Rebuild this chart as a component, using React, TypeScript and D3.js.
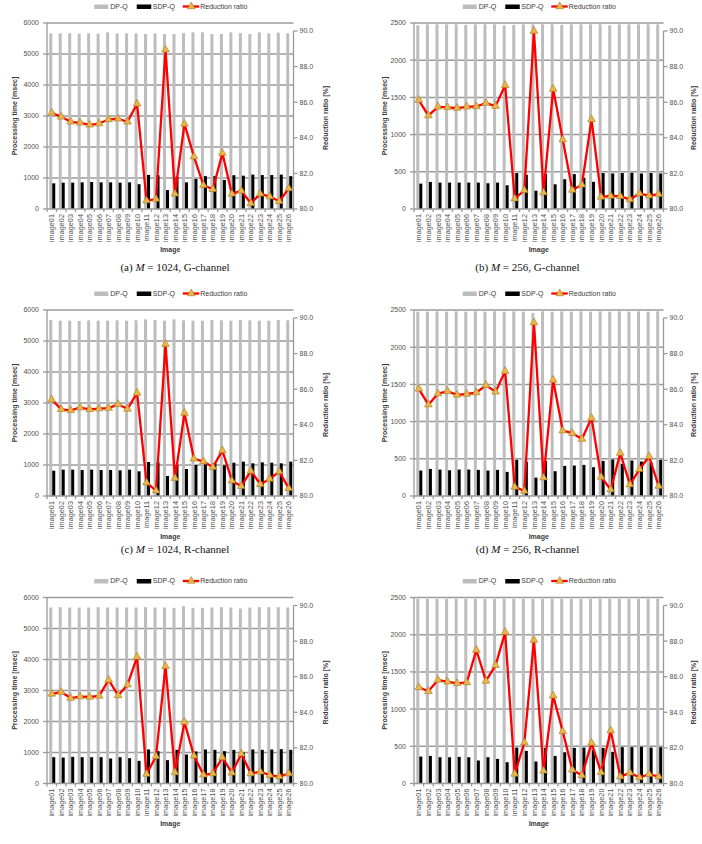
import React, { useEffect, useRef } from "react";
import * as d3 from "d3";

const IMAGES = [
  "image01", "image02", "image03", "image04", "image05", "image06", "image07",
  "image08", "image09", "image10", "image11", "image12", "image13", "image14",
  "image15", "image16", "image17", "image18", "image19", "image20", "image21",
  "image22", "image23", "image24", "image25", "image26",
];

// (a) M = 1024, G-channel
const DPQ_A = [5667, 5667, 5667, 5656, 5667, 5656, 5699, 5667, 5667, 5667, 5645, 5667, 5645, 5645, 5677, 5699, 5699, 5645, 5645, 5699, 5677, 5645, 5699, 5667, 5688, 5667];
const SDPQ_A = [828, 850, 850, 860, 870, 860, 860, 850, 860, 800, 1100, 1090, 610, 1040, 860, 970, 1060, 1060, 935, 1090, 1075, 1110, 1095, 1095, 1110, 1060];
const RATIO_A = [85.40, 85.18, 84.90, 84.84, 84.73, 84.80, 85.03, 85.07, 84.90, 85.91, 80.47, 80.56, 88.95, 80.85, 84.78, 82.94, 81.34, 81.11, 83.14, 80.85, 81.02, 80.32, 80.85, 80.70, 80.43, 81.15];

// (b) M = 256, G-channel
const DPQ_B = [2468, 2482, 2482, 2482, 2482, 2475, 2482, 2482, 2482, 2468, 2475, 2482, 2482, 2482, 2482, 2475, 2482, 2482, 2482, 2482, 2468, 2482, 2482, 2482, 2482, 2482];
const SDPQ_B = [341, 364, 355, 355, 355, 355, 355, 346, 355, 319, 483, 460, 246, 470, 332, 400, 469, 420, 365, 483, 478, 483, 487, 478, 483, 478];
const RATIO_B = [86.12, 85.25, 85.74, 85.71, 85.67, 85.74, 85.76, 85.95, 85.78, 86.95, 80.58, 81.05, 90.00, 80.92, 86.74, 83.90, 81.07, 81.36, 85.03, 80.68, 80.73, 80.72, 80.53, 80.87, 80.75, 80.83];

// (c) M = 1024, R-channel
const DPQ_C = [5677, 5656, 5656, 5645, 5667, 5656, 5656, 5667, 5656, 5667, 5699, 5677, 5656, 5699, 5667, 5656, 5656, 5677, 5667, 5656, 5677, 5667, 5656, 5656, 5677, 5667];
const SDPQ_C = [817, 850, 850, 839, 850, 839, 839, 828, 850, 796, 1097, 1090, 645, 1000, 871, 1000, 1022, 1054, 989, 1075, 1108, 1054, 1086, 1075, 1054, 1108];
const RATIO_C = [85.41, 84.87, 84.81, 84.96, 84.87, 84.91, 84.94, 85.15, 84.89, 85.79, 80.75, 80.30, 88.53, 81.00, 84.66, 82.09, 81.94, 81.62, 82.56, 80.86, 80.55, 81.41, 80.66, 80.96, 81.37, 80.43];

// (d) M = 256, R-channel
const DPQ_D = [2478, 2478, 2482, 2478, 2482, 2478, 2482, 2478, 2482, 2478, 2482, 2478, 2460, 2482, 2478, 2482, 2478, 2482, 2478, 2482, 2478, 2482, 2478, 2482, 2478, 2482];
const SDPQ_D = [342, 364, 355, 346, 355, 355, 351, 342, 351, 324, 486, 460, 247, 470, 333, 405, 409, 418, 387, 472, 490, 432, 477, 463, 450, 486];
const RATIO_D = [86.02, 85.13, 85.75, 85.88, 85.68, 85.73, 85.81, 86.22, 85.85, 87.01, 80.51, 80.28, 89.74, 81.03, 86.52, 83.67, 83.53, 83.20, 84.38, 81.07, 80.36, 82.41, 80.64, 81.50, 82.22, 80.56];

// (e) M = 1024, B-channel
const DPQ_E = [5677, 5688, 5677, 5677, 5677, 5688, 5677, 5677, 5677, 5677, 5688, 5677, 5677, 5667, 5720, 5667, 5667, 5677, 5688, 5677, 5645, 5677, 5688, 5688, 5688, 5677];
const SDPQ_E = [849, 839, 860, 849, 849, 849, 806, 849, 817, 731, 1097, 1043, 753, 1086, 935, 1032, 1097, 1086, 1043, 1086, 1000, 1097, 1086, 1097, 1108, 1086];
const RATIO_E = [85.03, 85.14, 84.80, 84.88, 84.86, 84.92, 85.82, 84.95, 85.55, 87.11, 80.53, 81.52, 86.59, 80.62, 83.45, 81.56, 80.49, 80.56, 81.46, 80.60, 81.67, 80.56, 80.66, 80.47, 80.39, 80.56];

// (f) M = 256, B-channel
const DPQ_F = [2482, 2482, 2482, 2482, 2482, 2482, 2482, 2482, 2482, 2482, 2482, 2482, 2482, 2482, 2482, 2482, 2482, 2482, 2482, 2482, 2482, 2482, 2482, 2482, 2482, 2482];
const SDPQ_F = [362, 371, 353, 353, 358, 353, 309, 353, 331, 286, 483, 438, 295, 479, 371, 420, 479, 483, 450, 479, 425, 488, 488, 492, 483, 488];
const RATIO_F = [85.40, 85.18, 85.81, 85.72, 85.63, 85.68, 87.50, 85.76, 86.64, 88.50, 80.54, 82.30, 88.06, 80.71, 84.93, 82.93, 80.77, 80.45, 82.28, 80.62, 82.97, 80.39, 80.60, 80.34, 80.52, 80.39];

const RATIO_TICKS = [80, 82, 84, 86, 88, 90];

const PANELS = [
  { dp: DPQ_A, sdp: SDPQ_A, ratio: RATIO_A, yMax: 6000, step: 1000, col: 0, row: 0, tag: "(a)", m: "1024", ch: "G-channel" },
  { dp: DPQ_B, sdp: SDPQ_B, ratio: RATIO_B, yMax: 2500, step: 500, col: 1, row: 0, tag: "(b)", m: "256", ch: "G-channel" },
  { dp: DPQ_C, sdp: SDPQ_C, ratio: RATIO_C, yMax: 6000, step: 1000, col: 0, row: 1, tag: "(c)", m: "1024", ch: "R-channel" },
  { dp: DPQ_D, sdp: SDPQ_D, ratio: RATIO_D, yMax: 2500, step: 500, col: 1, row: 1, tag: "(d)", m: "256", ch: "R-channel" },
  { dp: DPQ_E, sdp: SDPQ_E, ratio: RATIO_E, yMax: 6000, step: 1000, col: 0, row: 2, tag: null, m: "1024", ch: "B-channel" },
  { dp: DPQ_F, sdp: SDPQ_F, ratio: RATIO_F, yMax: 2500, step: 500, col: 1, row: 2, tag: null, m: "256", ch: "B-channel" },
];

// layout
const COL_LEFT = [47, 414];
const COL_RIGHT = [293.5, 663.5];
const ROW_TOP = [23, 310, 597.5];
const PLOT_H = 186;
const CAPTION_Y = [271, 553, 840];
const CAPTION_X = [175, 527.5];
const LEFT_TITLE_X = [15, 384.5];
const RIGHT_TITLE_X = [325.5, 694];

const FONT = "'Liberation Sans', Arial, sans-serif";
const GRID = "#9a9a9a";
const LABEL = "#505050";
const GRAY_BAR = "#bdbdbd";
const RED = "#ff0000";
const MARK_FILL = "#eab64a";
const MARK_STROKE = "#a87a20";

function drawPanel(svg, p) {
  const left = COL_LEFT[p.col];
  const right = COL_RIGHT[p.col];
  const top = ROW_TOP[p.row];
  const bottom = top + PLOT_H;
  const cx = (left + right) / 2;

  const x = d3.scaleBand().domain(IMAGES).range([left, right]);
  const y = d3.scaleLinear().domain([0, p.yMax]).range([bottom, top]);
  const yr = d3.scaleLinear().domain([80, 90]).range([bottom, top + 8]);
  const mid = (d) => x(d) + x.bandwidth() / 2;

  const g = svg.append("g").attr("font-family", FONT);
  const yTicks = d3.range(0, p.yMax + 1, p.step);

  // gridlines
  g.append("g")
    .selectAll("line")
    .data(yTicks.filter((t) => t > 0))
    .join("line")
    .attr("x1", left).attr("x2", right)
    .attr("y1", (d) => y(d)).attr("y2", (d) => y(d))
    .attr("stroke", GRID).attr("stroke-width", 1.5);

  // bars
  g.append("g")
    .selectAll("rect")
    .data(IMAGES)
    .join("rect")
    .attr("x", (d) => mid(d) - 2.5)
    .attr("width", 3)
    .attr("y", (d, i) => y(p.dp[i]))
    .attr("height", (d, i) => bottom - y(p.dp[i]))
    .attr("fill", GRAY_BAR);
  g.append("g")
    .selectAll("rect")
    .data(IMAGES)
    .join("rect")
    .attr("x", (d) => mid(d) + 0.5)
    .attr("width", 3)
    .attr("y", (d, i) => y(p.sdp[i]))
    .attr("height", (d, i) => bottom - y(p.sdp[i]))
    .attr("fill", "#000");

  // axes lines
  const axis = g.append("g").attr("stroke", GRID).attr("stroke-width", 1.3);
  axis.append("line").attr("x1", left).attr("x2", left).attr("y1", top).attr("y2", bottom);
  axis.append("line").attr("x1", right).attr("x2", right).attr("y1", yr(90)).attr("y2", bottom);
  axis.append("line").attr("x1", left).attr("x2", right).attr("y1", bottom).attr("y2", bottom);
  axis.selectAll(".lt").data(yTicks).join("line").attr("class", "lt")
    .attr("x1", left - 4).attr("x2", left).attr("y1", (d) => y(d)).attr("y2", (d) => y(d));
  axis.selectAll(".rt").data(RATIO_TICKS).join("line").attr("class", "rt")
    .attr("x1", right).attr("x2", right + 4).attr("y1", (d) => yr(d)).attr("y2", (d) => yr(d));
  axis.selectAll(".xt").data(d3.range(IMAGES.length + 1)).join("line").attr("class", "xt")
    .attr("x1", (i) => left + i * x.step()).attr("x2", (i) => left + i * x.step())
    .attr("y1", bottom).attr("y2", bottom + 3);

  // tick labels
  g.append("g")
    .selectAll("text")
    .data(yTicks)
    .join("text")
    .attr("x", left - 8)
    .attr("y", (d) => y(d))
    .attr("dy", "0.35em")
    .attr("text-anchor", "end")
    .attr("font-size", 7)
    .attr("fill", LABEL)
    .text((d) => d);
  g.append("g")
    .selectAll("text")
    .data(RATIO_TICKS)
    .join("text")
    .attr("x", right + 6)
    .attr("y", (d) => yr(d))
    .attr("dy", "0.35em")
    .attr("font-size", 7)
    .attr("fill", LABEL)
    .text((d) => d.toFixed(1));
  g.append("g")
    .selectAll("text")
    .data(IMAGES)
    .join("text")
    .attr("transform", (d) => `translate(${mid(d)},${bottom + 5}) rotate(-90)`)
    .attr("dy", "0.35em")
    .attr("text-anchor", "end")
    .attr("font-size", 7.3)
    .attr("fill", LABEL)
    .text((d) => d);

  // axis titles
  const titles = g.append("g").attr("font-size", 7).attr("font-weight", "bold").attr("fill", "#3a3a3a").attr("text-anchor", "middle");
  titles.append("text")
    .attr("transform", `translate(${LEFT_TITLE_X[p.col]},${(top + bottom) / 2}) rotate(-90)`)
    .attr("dy", "0.35em")
    .text("Processing time [msec]");
  titles.append("text")
    .attr("transform", `translate(${RIGHT_TITLE_X[p.col]},${(top + bottom) / 2 + 2}) rotate(-90)`)
    .attr("dy", "0.35em")
    .text("Reduction ratio [%]");
  titles.append("text").attr("x", cx).attr("y", bottom + 42.5).text("Image");

  // ratio line
  const line = d3.line().x((d) => mid(d[0])).y((d) => yr(d[1]));
  const pts = IMAGES.map((d, i) => [d, p.ratio[i]]);
  g.append("path")
    .datum(pts)
    .attr("d", line)
    .attr("fill", "none")
    .attr("stroke", RED)
    .attr("stroke-width", 2.3)
    .attr("stroke-linejoin", "round");
  const tri = d3.symbol(d3.symbolTriangle, 26);
  g.append("g")
    .selectAll("path")
    .data(pts)
    .join("path")
    .attr("transform", (d) => `translate(${mid(d[0])},${yr(d[1])})`)
    .attr("d", tri)
    .attr("fill", MARK_FILL)
    .attr("stroke", MARK_STROKE)
    .attr("stroke-width", 0.6);

  // legend
  const ly = top - 16.5;
  const leg = g.append("g").attr("font-size", 7).attr("fill", "#3a3a3a");
  leg.append("rect").attr("x", cx - 76).attr("y", ly - 2).attr("width", 14).attr("height", 4.5).attr("fill", GRAY_BAR);
  leg.append("text").attr("x", cx - 60).attr("y", ly).attr("dy", "0.35em").text("DP-Q");
  leg.append("rect").attr("x", cx - 33.5).attr("y", ly - 2).attr("width", 14.5).attr("height", 4.5).attr("fill", "#000");
  leg.append("text").attr("x", cx - 17.5).attr("y", ly).attr("dy", "0.35em").text("SDP-Q");
  leg.append("line").attr("x1", cx + 12.5).attr("x2", cx + 29).attr("y1", ly).attr("y2", ly)
    .attr("stroke", RED).attr("stroke-width", 2.3);
  leg.append("path").attr("transform", `translate(${cx + 21},${ly})`).attr("d", tri)
    .attr("fill", MARK_FILL).attr("stroke", MARK_STROKE).attr("stroke-width", 0.6);
  leg.append("text").attr("x", cx + 30).attr("y", ly).attr("dy", "0.35em").text("Reduction ratio");

  // caption
  if (p.tag) {
    const cap = svg.append("text")
      .attr("x", CAPTION_X[p.col])
      .attr("y", CAPTION_Y[p.row])
      .attr("text-anchor", "middle")
      .attr("font-family", "'Liberation Serif', 'Times New Roman', serif")
      .attr("font-size", 11)
      .attr("fill", "#111");
    cap.append("tspan").text(`${p.tag} `);
    cap.append("tspan").attr("font-style", "italic").text("M");
    cap.append("tspan").text(` = ${p.m}, ${p.ch}`);
  }
}

export default function App() {
  const ref = useRef(null);

  useEffect(() => {
    const svg = d3.select(ref.current);
    svg.selectAll("*").remove();
    PANELS.forEach((p) => drawPanel(svg, p));
  }, []);

  return (
    <svg
      ref={ref}
      width={702}
      height={844}
      style={{ position: "absolute", left: 0, top: 0, background: "#fff" }}
    />
  );
}
